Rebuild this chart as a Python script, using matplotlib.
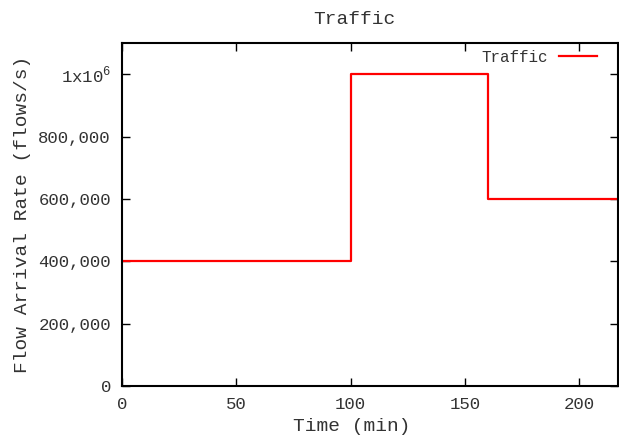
import matplotlib
matplotlib.use("Agg")
import matplotlib.pyplot as plt
from matplotlib.ticker import FixedLocator, FixedFormatter

# step profile of the traffic (time in minutes, flows/s)
times = [0, 100, 100, 160, 160, 217]
rates = [400000, 400000, 1000000, 1000000, 600000, 600000]

yticks = [0, 200000, 400000, 600000, 800000, 1000000]
ytick_labels = ["0", "200,000", "400,000", "600,000", "800,000", r"1x10$^{6}$"]
xticks = [0, 50, 100, 150, 200]

plt.rcParams['font.family'] = ['Liberation Mono', 'DejaVu Sans Mono']
plt.rcParams['mathtext.fontset'] = 'custom'
plt.rcParams['mathtext.rm'] = 'Liberation Mono'
txt = '#333333'

fig = plt.figure(figsize=(6.19, 4.38), dpi=100)
ax = fig.add_axes([122 / 619, 52 / 438, 496 / 619, 343 / 438])

ax.plot(times, rates, color='red', lw=1.6, label='Traffic')

ax.set_xlim(0, 217)
ax.set_ylim(0, 1100000)
ax.xaxis.set_major_locator(FixedLocator(xticks))
ax.yaxis.set_major_locator(FixedLocator(yticks))
ax.yaxis.set_major_formatter(FixedFormatter(ytick_labels))
ax.tick_params(direction='in', top=True, right=True, length=6, width=1,
               labelsize=12.5, labelcolor=txt, color='black', pad=8)
for s in ax.spines.values():
    s.set_linewidth(1.5)

ax.set_title("Traffic", fontsize=14, pad=14, color=txt, x=0.468)
ax.set_xlabel("Time (min)", fontsize=14, labelpad=4, color=txt, x=0.464)
ax.set_ylabel("Flow Arrival Rate (flows/s)", fontsize=14, labelpad=5, color=txt)

ax.legend(loc='upper right', frameon=False, markerfirst=False, fontsize=11.4,
          handlelength=2.4, handletextpad=0.7, borderaxespad=0.2,
          bbox_to_anchor=(1.0 - 12 / 496, 1.0 + 3 / 343), labelcolor=txt)

fig.savefig("out.png", dpi=100)
